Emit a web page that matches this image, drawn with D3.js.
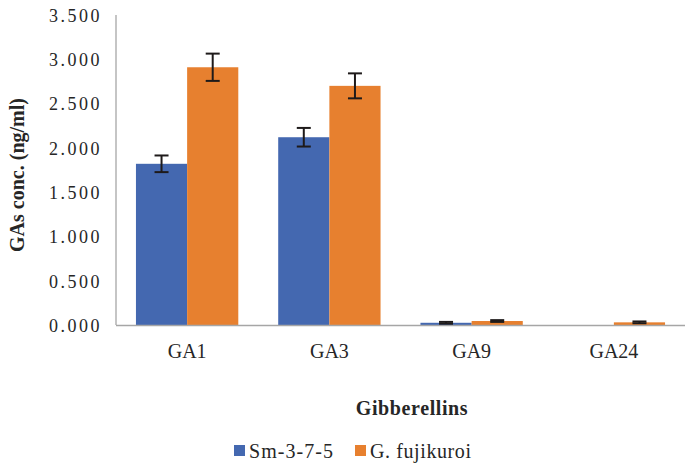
<!DOCTYPE html>
<html>
<head>
<meta charset="utf-8">
<script src="https://cdn.jsdelivr.net/npm/d3@7"></script>
<style>
  html, body { margin: 0; padding: 0; background: #fff; }
</style>
</head>
<body>
<svg id="chart" width="690" height="467"></svg>
<script>
const categories = ["GA1", "GA3", "GA9", "GA24"];
const seriesNames = ["Sm-3-7-5", "G. fujikuroi"];
const smValues = [1.82, 2.12, 0.025, 0.0];
const smErrors = [0.094, 0.105, 0.01, 0.0];
const gfValues = [2.91, 2.70, 0.045, 0.03];
const gfErrors = [0.154, 0.141, 0.01, 0.01];
const yTicks = [0, 0.5, 1.0, 1.5, 2.0, 2.5, 3.0, 3.5];
const colors = ["#4468b0", "#e7802f"];

(function () {
const FONT = "Liberation Serif";
const TXT = "#262626";
const svg = d3.select("#chart");
const mLeft = 116, mRight = 685, mTop = 15, mBottom = 325;

const x = d3.scaleBand().domain(categories).range([mLeft, mRight]).padding(0);
const x1 = d3.scaleBand().domain(seriesNames)
  .range([0, x.bandwidth()]).paddingOuter(0.39).paddingInner(0);
const y = d3.scaleLinear().domain([0, 3.5]).range([mBottom, mTop]);

const series = [
  { name: seriesNames[0], values: smValues, errors: smErrors, color: colors[0] },
  { name: seriesNames[1], values: gfValues, errors: gfErrors, color: colors[1] }
];

// y axis line
svg.append("line").attr("x1", mLeft).attr("x2", mLeft).attr("y1", mTop).attr("y2", mBottom)
  .attr("stroke", "#a6a6a6").attr("stroke-width", 1.3);

// y tick labels
const yg = svg.append("g").attr("transform", "translate(102,0)")
  .call(d3.axisLeft(y).tickValues(yTicks).tickFormat(d3.format(".3f")).tickSize(0).tickPadding(0));
yg.attr("font-family", FONT).attr("font-size", 18);
yg.select(".domain").remove();
yg.selectAll("text").attr("letter-spacing", 2.5).attr("fill", TXT).attr("dy", "0.35em");

// bars
series.forEach(s => {
  svg.append("g").selectAll("rect").data(categories).join("rect")
    .attr("x", (c) => x(c) + x1(s.name))
    .attr("width", x1.bandwidth())
    .attr("y", (c, i) => y(s.values[i]))
    .attr("height", (c, i) => y(0) - y(s.values[i]))
    .attr("fill", s.color);
});

// baseline
svg.append("line").attr("x1", mLeft).attr("x2", mRight).attr("y1", mBottom + 0.5).attr("y2", mBottom + 0.5)
  .attr("stroke", "#a6a6a6").attr("stroke-width", 1.6);

// error bars
series.forEach(s => {
  const g = svg.append("g").attr("stroke", "#1e1a1a").attr("stroke-width", 2);
  categories.forEach((c, i) => {
    if (s.values[i] === 0) return;
    const cx = x(c) + x1(s.name) + x1.bandwidth() / 2;
    const y1v = y(s.values[i] + s.errors[i]);
    const y2v = y(Math.max(0, s.values[i] - s.errors[i]));
    g.append("line").attr("x1", cx).attr("x2", cx).attr("y1", y1v).attr("y2", y2v);
    g.append("line").attr("x1", cx - 7).attr("x2", cx + 7).attr("y1", y1v).attr("y2", y1v);
    g.append("line").attr("x1", cx - 7).attr("x2", cx + 7).attr("y1", y2v).attr("y2", y2v);
  });
});

// x tick labels
const xg = svg.append("g").attr("transform", `translate(0,${mBottom})`)
  .call(d3.axisBottom(x).tickSize(0).tickPadding(0));
xg.attr("font-family", FONT).attr("font-size", 20);
xg.select(".domain").remove();
xg.selectAll("text").attr("fill", TXT).attr("dy", null).attr("y", 33);

// axis titles
svg.append("text").attr("x", 412).attr("y", 415).attr("text-anchor", "middle")
  .attr("font-family", FONT).attr("fill", TXT)
  .attr("font-size", 20).attr("font-weight", "bold").attr("letter-spacing", 0.6)
  .text("Gibberellins");

svg.append("text").attr("transform", "translate(24,175) rotate(-90)")
  .attr("font-family", FONT).attr("fill", TXT)
  .attr("text-anchor", "middle").attr("font-size", 20).attr("font-weight", "bold")
  .text("GAs conc. (ng/ml)");

// legend
const legendX = [234, 355];
const legendTextW = [84, 101];
series.forEach((s, i) => {
  svg.append("rect").attr("x", legendX[i]).attr("y", 445).attr("width", 11).attr("height", 11)
    .attr("fill", s.color);
  svg.append("text").attr("x", legendX[i] + 15).attr("y", 458).attr("font-size", 20)
    .attr("font-family", FONT).attr("fill", TXT)
    .attr("textLength", legendTextW[i]).attr("lengthAdjust", "spacing")
    .text(s.name);
});
})();
</script>
</body>
</html>
